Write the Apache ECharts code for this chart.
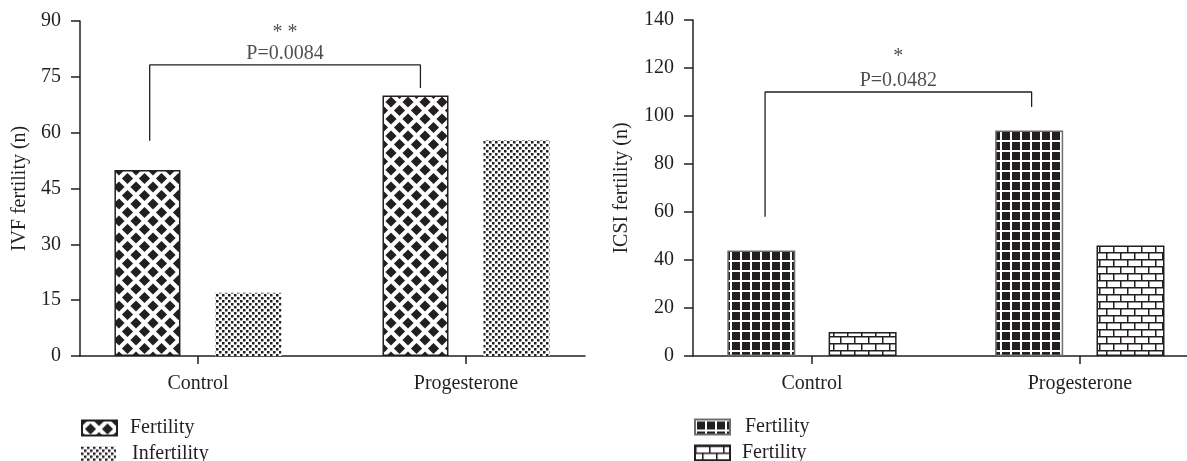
<!DOCTYPE html>
<html>
<head>
<meta charset="utf-8">
<script src="https://cdn.jsdelivr.net/npm/echarts@6/dist/echarts.min.js"></script>
<style>
html,body{margin:0;padding:0;background:#fff;}
#chart{width:1187px;height:461px;}
</style>
</head>
<body>
<div id="chart"></div>
<script>
// ---------------- data ----------------
const categories = ['Control', 'Progesterone'];
const ivfFertility = [50, 70];
const ivfInfertility = [17, 58];
const icsiFertility = [44, 94];
const icsiFertility2 = [10, 46];

const ivfAxis = { min: 0, max: 90, interval: 15, name: 'IVF fertility (n)' };
const icsiAxis = { min: 0, max: 140, interval: 20, name: 'ICSI fertility (n)' };

// significance brackets (x in category index units, y in data units)
const ivfBracket = [[-0.18, 57.8], [-0.18, 78.2], [0.83, 78.2], [0.83, 72]];
const icsiBracket = [[-0.175, 58], [-0.175, 110], [0.82, 110], [0.82, 103.8]];
const ivfStars = '* *';
const ivfP = 'P=0.0084';
const icsiStars = '*';
const icsiP = 'P=0.0482';

const legendLabels = {
  'IVF Fertility': 'Fertility',
  'IVF Infertility': 'Infertility',
  'ICSI Fertility A': 'Fertility',
  'ICSI Fertility B': 'Fertility'
};

// ---------------- patterns ----------------
const INK = '#231f20';
function makeTile(w, h, draw) {
  const c = document.createElement('canvas');
  c.width = w; c.height = h;
  const ctx = c.getContext('2d');
  draw(ctx, w, h);
  return { image: c, repeat: 'repeat' };
}
const diamondPat = makeTile(17, 17, (ctx, w, h) => {
  ctx.fillStyle = '#fff'; ctx.fillRect(0, 0, w, h);
  ctx.fillStyle = INK;
  const r = 5.6;
  [[0, 0], [w, 0], [0, h], [w, h], [w / 2, h / 2]].forEach(([cx, cy]) => {
    ctx.beginPath();
    ctx.moveTo(cx, cy - r); ctx.lineTo(cx + r, cy); ctx.lineTo(cx, cy + r); ctx.lineTo(cx - r, cy);
    ctx.closePath(); ctx.fill();
  });
});
const dotPat = makeTile(12, 12, (ctx, w, h) => {
  ctx.fillStyle = '#fff'; ctx.fillRect(0, 0, w, h);
  ctx.fillStyle = INK;
  const s = 2.5;
  [[0, 0], [6, 0], [0, 6], [6, 6], [3, 3], [9, 3], [3, 9], [9, 9]].forEach(([x, y]) => {
    ctx.fillRect(x, y, s, s);
  });
});
const gridPat = makeTile(10, 10, (ctx, w, h) => {
  ctx.fillStyle = INK; ctx.fillRect(0, 0, w, h);
  ctx.fillStyle = '#fff';
  ctx.fillRect(0, 0, 2, h);
  ctx.fillRect(0, 0, w, 2);
});
const brickPat = makeTile(14, 14, (ctx, w, h) => {
  ctx.fillStyle = '#fff'; ctx.fillRect(0, 0, w, h);
  ctx.fillStyle = INK;
  ctx.fillRect(0, 0, w, 1.5);
  ctx.fillRect(0, 7, w, 1.5);
  ctx.fillRect(0, 0, 1.5, 7);
  ctx.fillRect(7, 7, 1.5, 7);
});

// ---------------- helpers ----------------
const FONT = 'Liberation Serif';
const toPairs = arr => arr.map((v, i) => [i, v]);
function midTop(br) {
  return [[(br[1][0] + br[2][0]) / 2, br[1][1]]];
}

function xAxisDef(gridIndex, min, max) {
  return {
    type: 'value', gridIndex, min, max,
    axisLine: { show: true, onZero: false, lineStyle: { color: INK, width: 1.5 } },
    axisTick: { show: true, customValues: [0, 1], length: 8, lineStyle: { color: INK, width: 1.5 } },
    axisLabel: {
      customValues: [0, 1], margin: 18,
      formatter: v => categories[Math.round(v)] || '',
      color: INK, fontFamily: FONT, fontSize: 20
    },
    splitLine: { show: false }
  };
}
function yAxisDef(gridIndex, ax, nameGap) {
  return {
    type: 'value', gridIndex, min: ax.min, max: ax.max, interval: ax.interval,
    name: ax.name, nameLocation: 'middle', nameGap, nameRotate: 90,
    nameTextStyle: { color: INK, fontFamily: FONT, fontSize: 20 },
    axisLine: { show: true, onZero: false, lineStyle: { color: INK, width: 1.5 } },
    axisTick: { show: true, length: 9, lineStyle: { color: INK, width: 1.5 } },
    axisLabel: { margin: 19, color: INK, fontFamily: FONT, fontSize: 20 },
    splitLine: { show: false }
  };
}
function annot(gridIndex, br, stars, p, starLH) {
  return {
    type: 'scatter', xAxisIndex: gridIndex, yAxisIndex: gridIndex,
    data: midTop(br), symbolSize: 0, silent: true,
    label: {
      show: true, position: 'top', distance: 1, color: INK,
      formatter: '{s|' + stars + '}\n{p|' + p + '}',
      rich: {
        s: { fontFamily: FONT, fontSize: 20, color: INK, lineHeight: starLH },
        p: { fontFamily: FONT, fontSize: 20, color: INK, lineHeight: 21 }
      }
    }
  };
}
function bracket(gridIndex, br) {
  return {
    type: 'line', xAxisIndex: gridIndex, yAxisIndex: gridIndex,
    data: br, symbol: 'none', silent: true,
    lineStyle: { color: INK, width: 1.3 }
  };
}
function legendDef(left, top, name, textPad) {
  return {
    left, top, orient: 'vertical', icon: 'rect', padding: 0,
    itemWidth: 35, itemHeight: 15,
    data: [name],
    formatter: n => legendLabels[n],
    textStyle: { fontFamily: FONT, fontSize: 20, color: INK, padding: [0, 0, 0, textPad] }
  };
}

const chart = echarts.init(document.getElementById('chart'), null, { renderer: 'canvas' });
chart.setOption({
  animation: false,
  backgroundColor: '#fff',
  grid: [
    { left: 80, top: 21, width: 505, height: 335 },
    { left: 693, top: 20, width: 494, height: 336 }
  ],
  xAxis: [xAxisDef(0, -0.44, 1.444), xAxisDef(1, -0.444, 1.40)],
  yAxis: [yAxisDef(0, ivfAxis, 50), yAxisDef(1, icsiAxis, 61)],
  legend: [
    legendDef(81, 418, 'IVF Fertility', 8),
    legendDef(81, 444, 'IVF Infertility', 11),
    legendDef(694, 417, 'ICSI Fertility A', 10),
    legendDef(694, 443, 'ICSI Fertility B', 7)
  ],
  series: [
    {
      type: 'bar', name: 'IVF Fertility', xAxisIndex: 0, yAxisIndex: 0,
      data: toPairs(ivfFertility), barWidth: 66, barGap: '53%',
      itemStyle: { color: diamondPat, borderColor: INK, borderWidth: 1.5 }
    },
    {
      type: 'bar', name: 'IVF Infertility', xAxisIndex: 0, yAxisIndex: 0,
      data: toPairs(ivfInfertility), barWidth: 66, barGap: '53%',
      itemStyle: { color: dotPat, borderWidth: 0 }
    },
    {
      type: 'bar', name: 'ICSI Fertility A', xAxisIndex: 1, yAxisIndex: 1,
      data: toPairs(icsiFertility), barWidth: 68, barGap: '49%',
      itemStyle: { color: gridPat, borderColor: '#6d6e71', borderWidth: 1.5 }
    },
    {
      type: 'bar', name: 'ICSI Fertility B', xAxisIndex: 1, yAxisIndex: 1,
      data: toPairs(icsiFertility2), barWidth: 68, barGap: '49%',
      itemStyle: { color: brickPat, borderColor: INK, borderWidth: 1.5 }
    },
    bracket(0, ivfBracket),
    bracket(1, icsiBracket),
    annot(0, ivfBracket, ivfStars, ivfP, 21),
    annot(1, icsiBracket, icsiStars, icsiP, 27)
  ]
});
</script>
</body>
</html>
